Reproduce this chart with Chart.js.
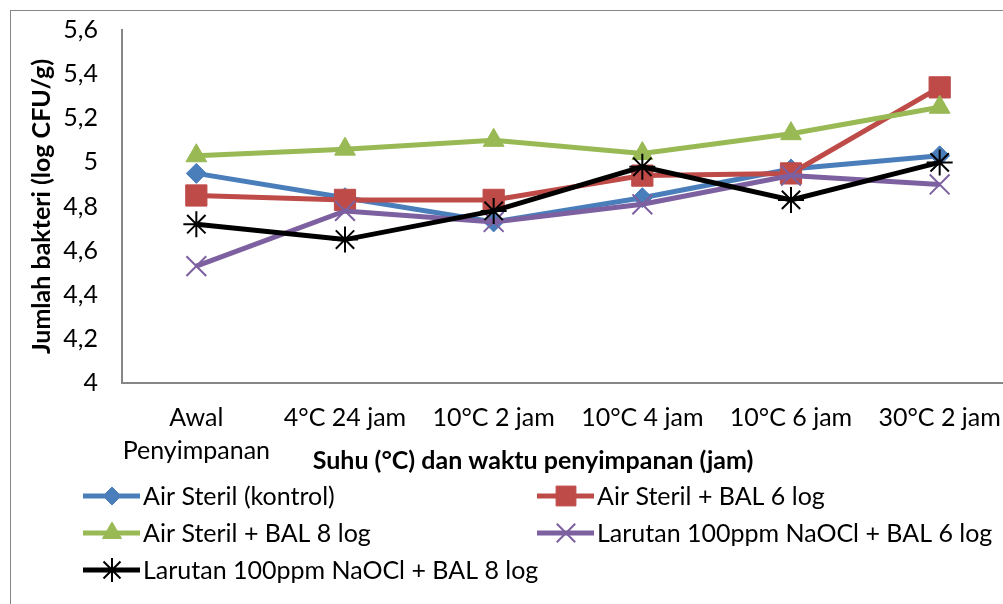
<!DOCTYPE html>
<html>
  <head>
    <script src="https://cdn.jsdelivr.net/npm/chart.js@4/dist/chart.umd.min.js"></script>
    <style>
      html, body { margin: 0; padding: 0; overflow: hidden; background: #fff; }
    </style>
  </head>

  <body>
    <canvas id="canvas" width="1030" height="604"></canvas>
    <script>
      const categories = [['Awal', 'Penyimpanan'], '4°C 24 jam', '10°C 2 jam', '10°C 4 jam', '10°C 6 jam', '30°C 2 jam'];

      const airSteril = [4.95, 4.84, 4.73, 4.84, 4.97, 5.03];
      const airSterilBal6 = [4.85, 4.83, 4.83, 4.94, 4.95, 5.34];
      const airSterilBal8 = [5.03, 5.06, 5.10, 5.04, 5.13, 5.25];
      const naoclBal6 = [4.53, 4.78, 4.73, 4.81, 4.94, 4.90];
      const naoclBal8 = [4.72, 4.65, 4.78, 4.98, 4.83, 5.00];

      const seriesNames = [
        'Air Steril (kontrol)',
        'Air Steril + BAL 6 log',
        'Air Steril + BAL 8 log',
        'Larutan 100ppm NaOCl + BAL 6 log',
        'Larutan 100ppm NaOCl + BAL 8 log',
      ];

      const yTitle = 'Jumlah bakteri (log CFU/g)';
      const xTitle = 'Suhu (°C) dan waktu penyimpanan (jam)';

      const FONT = 'Lato, "Liberation Sans", sans-serif';
      const FS = 25;

      // later series sit on top, like excel
      function series(label, data, color, style, radius, pointBorder, order) {
        return {
          label: label,
          data: data,
          order: order,
          borderColor: color,
          backgroundColor: color,
          borderWidth: 5,
          pointStyle: style,
          pointRadius: radius,
          pointHoverRadius: radius,
          pointBackgroundColor: color,
          pointBorderColor: color,
          pointBorderWidth: pointBorder,
          tension: 0,
        };
      }

      // legend + outer frame + x title drawn by hand (excel style two-column legend)
      const excelBits = {
        id: 'excelBits',
        afterDraw(chart) {
          const ctx = chart.ctx;
          ctx.save();
          ctx.strokeStyle = '#868686';
          ctx.lineWidth = 1;
          ctx.strokeRect(10.5, 10.5, 1200, 1000);

          ctx.fillStyle = '#000';
          ctx.font = 'bold ' + FS + 'px ' + FONT;
          ctx.textAlign = 'center';
          ctx.textBaseline = 'middle';
          ctx.fillText(xTitle, 533, 461);

          const slots = [
            [83, 496], [537, 496],
            [83, 533], [537, 533],
            [83, 570],
          ];
          chart.data.datasets.forEach((ds, i) => {
            const [x0, y] = slots[i];
            ctx.strokeStyle = ds.borderColor;
            ctx.fillStyle = ds.backgroundColor;
            ctx.lineWidth = 5;
            ctx.beginPath();
            ctx.moveTo(x0, y);
            ctx.lineTo(x0 + 57, y);
            ctx.stroke();
            ctx.lineWidth = ds.pointBorderWidth;
            Chart.helpers.drawPoint(ctx, {
              pointStyle: ds.pointStyle,
              radius: ds.pointRadius - 1,
              borderWidth: ds.pointBorderWidth,
              rotation: 0,
            }, x0 + 29, y);
            ctx.fillStyle = '#000';
            ctx.font = FS + 'px ' + FONT;
            ctx.textAlign = 'left';
            ctx.fillText(ds.label, x0 + 60, y + 1);
          });
          ctx.restore();
        },
      };

      new Chart(document.getElementById('canvas').getContext('2d'), {
        type: 'line',
        data: {
          labels: categories,
          datasets: [
            series(seriesNames[0], airSteril, '#4A7EBB', 'rectRot', 10, 1, 5),
            series(seriesNames[1], airSterilBal6, '#BE4B48', 'rect', 15, 1, 4),
            series(seriesNames[2], airSterilBal8, '#98B954', 'triangle', 12, 1, 3),
            series(seriesNames[3], naoclBal6, '#7D60A0', 'crossRot', 14, 2, 2),
            series(seriesNames[4], naoclBal8, '#000000', 'star', 13, 2, 1),
          ],
        },
        options: {
          responsive: false,
          animation: false,
          layout: {
            padding: { left: 10, right: 16, top: 30, bottom: 131 },
          },
          plugins: {
            legend: { display: false },
            tooltip: { enabled: false },
          },
          scales: {
            x: {
              offset: true,
              grid: { offset: true, drawOnChartArea: false, drawTicks: false },
              border: { display: true, color: '#868686', width: 2 },
              ticks: {
                color: '#000',
                padding: 18,
                maxRotation: 0,
                autoSkip: false,
                font: { family: FONT, size: FS, lineHeight: 1.32 },
              },
              afterFit: (scale) => { scale.height = 90; },
            },
            y: {
              min: 4,
              max: 5.6,
              // invisible tick marks keep the label gap without padding the top
              grid: { drawOnChartArea: false, drawTicks: true, tickLength: 20, color: 'rgba(0,0,0,0)' },
              border: { display: true, color: '#868686', width: 2 },
              ticks: {
                stepSize: 0.2,
                color: '#000',
                padding: 4,
                font: { family: FONT, size: FS },
                callback: (v) => String(Math.round(v * 10) / 10).replace('.', ','),
              },
              title: {
                display: true,
                text: yTitle,
                color: '#000',
                padding: { top: 17, bottom: 0 },
                font: { family: FONT, size: FS, weight: 'bold' },
              },
              afterFit: (scale) => { scale.width = 112; },
            },
          },
        },
        plugins: [excelBits],
      });
    </script>
  </body>
</html>
